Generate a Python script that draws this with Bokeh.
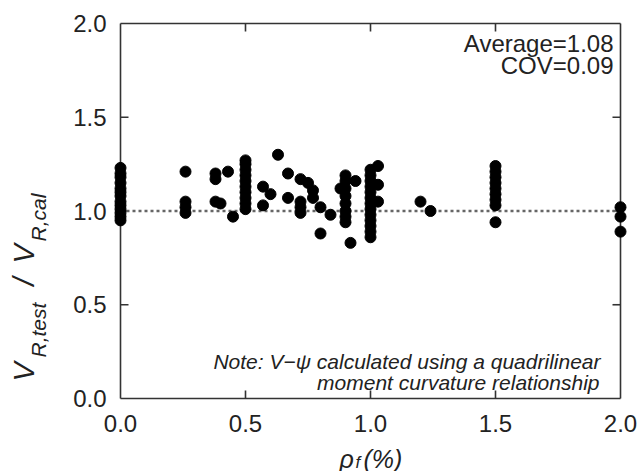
import math
from bokeh.plotting import figure
from bokeh.models import Range1d, Label
from bokeh.embed import file_html
from bokeh.resources import INLINE

# ---- data ----
rho_f = ([0.0] * 13 + [0.26] * 4 + [0.38] * 3 + [0.40, 0.43, 0.45] + [0.50] * 10 +
         [0.57, 0.57, 0.60, 0.63, 0.67, 0.67] + [0.72] * 4 + [0.75, 0.77, 0.77, 0.80, 0.80, 0.84, 0.88] +
         [0.90] * 8 + [0.92, 0.94] + [1.00] * 13 + [1.03] * 3 + [1.20, 1.24] + [1.50] * 9 + [2.00] * 3)
v_ratio = ([0.95, 0.97, 0.99, 1.01, 1.03, 1.05, 1.08, 1.10, 1.12, 1.15, 1.18, 1.20, 1.23] +
           [1.21, 1.05, 1.02, 0.99] +
           [1.20, 1.17, 1.05] +
           [1.04, 1.21, 0.97] +
           [1.01, 1.04, 1.07, 1.10, 1.13, 1.16, 1.19, 1.22, 1.25, 1.27] +
           [1.13, 1.03, 1.09, 1.30, 1.20, 1.07] +
           [1.17, 1.05, 1.02, 0.99] +
           [1.15, 1.11, 1.07, 1.02, 0.88, 0.98, 1.12] +
           [1.19, 1.16, 1.12, 1.08, 1.04, 1.00, 0.97, 0.94] +
           [0.83, 1.16] +
           [1.22, 1.19, 1.16, 1.13, 1.10, 1.07, 1.04, 1.01, 0.98, 0.95, 0.92, 0.89, 0.86] +
           [1.24, 1.14, 1.05] +
           [1.05, 1.00] +
           [1.03, 1.06, 1.09, 1.12, 1.15, 1.18, 1.21, 1.24, 0.94] +
           [1.02, 0.97, 0.89])
x_ticks = [0.0, 0.5, 1.0, 1.5, 2.0]
y_ticks = [0.0, 0.5, 1.0, 1.5, 2.0]
x_tick_labels = ["0.0", "0.5", "1.0", "1.5", "2.0"]
y_tick_labels = ["0.0", "0.5", "1.0", "1.5", "2.0"]
reference_ratio = 1.0
stats_lines = ["Average=1.08", "COV=0.09"]
note_lines = ["Note: V\u2212\u03c8 calculated using a quadrilinear", "moment curvature relationship"]

FONT = "Liberation Sans"
INK = "#222222"
W, H = 640, 471

# pixel geometry of the plot box inside the canvas
BOX_L, BOX_R, BOX_T, BOX_B = 120, 620, 23, 398
sx_per = (BOX_R - BOX_L) / (x_ticks[-1] - x_ticks[0])
sy_per = (BOX_B - BOX_T) / (y_ticks[-1] - y_ticks[0])

def dx(px):
    return x_ticks[0] + (px - BOX_L) / sx_per

def dy(py):
    return y_ticks[0] + (BOX_B - py) / sy_per

p = figure(width=W, height=H, output_backend="svg", toolbar_location=None,
           x_axis_type=None, y_axis_type=None,
           x_range=Range1d(dx(0), dx(W)), y_range=Range1d(dy(H), dy(0)),
           min_border=0)
p.outline_line_color = None
p.background_fill_color = "white"
p.border_fill_color = "white"
p.grid.visible = False

xmin, xmax = x_ticks[0], x_ticks[-1]
ymin, ymax = y_ticks[0], y_ticks[-1]
BOX_COLOR = "#333333"
# box
p.segment(x0=[xmin, xmax, xmin, xmin], y0=[ymin, ymin, ymin, ymax],
          x1=[xmin, xmax, xmax, xmax], y1=[ymax, ymax, ymin, ymax],
          line_color=BOX_COLOR, line_width=1.6)
# inward ticks
tl = 8
inner_x = x_ticks[1:-1]
inner_y = y_ticks[1:-1]
n, m = len(inner_x), len(inner_y)
p.segment(x0=inner_x, y0=[ymin] * n, x1=inner_x, y1=[ymin + tl / sy_per] * n, line_color=BOX_COLOR, line_width=1.6)
p.segment(x0=inner_x, y0=[ymax] * n, x1=inner_x, y1=[ymax - tl / sy_per] * n, line_color=BOX_COLOR, line_width=1.6)
p.segment(x0=[xmin] * m, y0=inner_y, x1=[xmin + tl / sx_per] * m, y1=inner_y, line_color=BOX_COLOR, line_width=1.6)
p.segment(x0=[xmax] * m, y0=inner_y, x1=[xmax - tl / sx_per] * m, y1=inner_y, line_color=BOX_COLOR, line_width=1.6)

# tick labels
p.text(x=x_ticks, y=[dy(423)] * len(x_ticks), text=x_tick_labels, text_font={"value": FONT},
       text_font_size="24px", text_color=INK, text_align="center", text_baseline="middle")
p.text(x=[dx(106)] * len(y_ticks), y=y_ticks, text=y_tick_labels, text_font={"value": FONT},
       text_font_size="24px", text_color=INK, text_align="right", text_baseline="middle")

# reference line
p.line(x=[xmin, xmax], y=[reference_ratio, reference_ratio], line_color="#666666",
       line_width=2.5, line_dash="3 3")

# data
p.scatter(x=rho_f, y=v_ratio, size=11, fill_color="black", line_color="black", marker="circle")

def lab(px, py, text, size, style="normal", align="left", angle=0.0):
    p.add_layout(Label(x=dx(px), y=dy(py), text=text,
                       text_font=FONT, text_font_size=f"{size}px", text_font_style=style,
                       text_color=INK, text_align=align, text_baseline="middle", angle=angle))

# stats
lab(613, 43, stats_lines[0], 24, align="right")
lab(613, 65, stats_lines[1], 24, align="right")
# note
lab(600, 361, note_lines[0], 21, style="italic", align="right")
lab(599, 382, note_lines[1], 21, style="italic", align="right")

# y axis label: V_{R,test} /V_{R,cal}
a = math.pi / 2
lab(23, 381, "V", 29, style="italic", angle=a)
lab(38, 357, "R,test", 21, style="italic", angle=a)
lab(23, 285, "/", 29, style="italic", angle=a)
lab(23, 263, "V", 29, style="italic", angle=a)
lab(38, 241, "R,cal", 21, style="italic", angle=a)

# x axis label: rho_f (%)
lab(339, 458, "\u03c1", 25, style="italic")
lab(355, 462, "f", 17, style="italic")
lab(363, 458, "(%)", 25, style="italic")

open("out.html", "w").write(file_html(p, INLINE))
